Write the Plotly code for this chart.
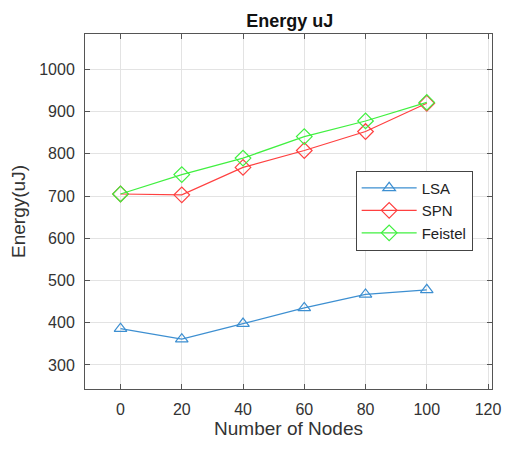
import plotly.graph_objects as go

nodes = [0, 20, 40, 60, 80, 100]
lsa = [386, 361, 398, 435, 467, 478]
spn = [705, 703, 768, 808, 853, 920]
feistel = [705, 751, 790, 841, 878, 922]
x_ticks = [0, 20, 40, 60, 80, 100, 120]
y_ticks = [300, 400, 500, 600, 700, 800, 900, 1000]

fig = go.Figure()
fig.add_trace(go.Scatter(x=nodes, y=lsa, name="LSA", mode="lines+markers",
                         line=dict(color="#3d8fd1", width=1.2),
                         marker=dict(symbol="triangle-up-open", size=11, color="#3d8fd1", line=dict(width=1.2))))
fig.add_trace(go.Scatter(x=nodes, y=spn, name="SPN", mode="lines+markers",
                         line=dict(color="#ff4040", width=1.2),
                         marker=dict(symbol="diamond-open", size=12, color="#ff4040", line=dict(width=1.2))))
fig.add_trace(go.Scatter(x=nodes, y=feistel, name="Feistel", mode="lines+markers",
                         line=dict(color="#40f040", width=1.2),
                         marker=dict(symbol="diamond-open", size=12, color="#40f040", line=dict(width=1.2))))

axis_common = dict(showline=True, linecolor="#555555", linewidth=1, mirror="ticks",
                   ticks="inside", ticklen=5, tickcolor="#555555",
                   showgrid=True, gridcolor="#e3e3e3", gridwidth=1, zeroline=False,
                   tickfont=dict(size=16, color="#333333"))

fig.update_layout(
    width=513, height=450,
    margin=dict(l=85, r=16, t=34, b=61),
    paper_bgcolor="white", plot_bgcolor="white",
    font=dict(family="Liberation Sans, Arial, sans-serif", color="#333333"),
    title=dict(text="<b>Energy uJ</b>", x=0.565, xanchor="center", y=0.955, yanchor="middle",
               font=dict(size=18, color="#111111")),
    xaxis=dict(range=[-11.6, 121.3], tickvals=x_ticks, ticklabelstandoff=6,
               title=dict(text="Number of Nodes", font=dict(size=19, color="#333333"), standoff=4),
               **axis_common),
    yaxis=dict(range=[243, 1084], tickvals=y_ticks, ticklabelstandoff=6,
               title=dict(text="Energy(uJ)", font=dict(size=19, color="#333333"), standoff=8),
               **axis_common),
    legend=dict(x=0.665, y=0.39, xanchor="left", yanchor="bottom",
                bgcolor="white", bordercolor="#444444", borderwidth=1,
                font=dict(size=15, color="#222222"), tracegroupgap=0, itemwidth=55),
    showlegend=True,
)
fig.write_html("out.html")
